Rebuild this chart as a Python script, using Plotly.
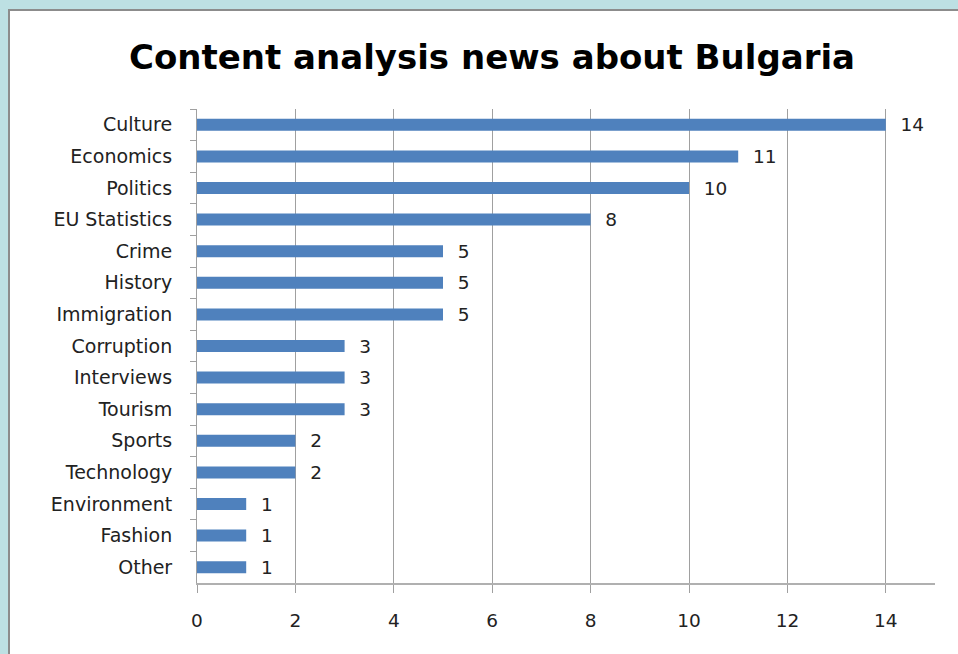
import plotly.graph_objects as go

categories = ["Culture", "Economics", "Politics", "EU Statistics", "Crime", "History",
              "Immigration", "Corruption", "Interviews", "Tourism", "Sports",
              "Technology", "Environment", "Fashion", "Other"]
counts = [14, 11, 10, 8, 5, 5, 5, 3, 3, 3, 2, 2, 1, 1, 1]
x_ticks = [0, 2, 4, 6, 8, 10, 12, 14]

W, H = 958, 654
L, R, T, B = 197, 23, 109, 71
pw, ph = W - L - R, H - T - B

def px2x(px):
    return (px - L) / pw

def py2y(py):
    return (H - B - py) / ph

FONT = "DejaVu Sans"
TXT = "#222222"

fig = go.Figure(go.Bar(
    x=counts, y=categories, orientation="h",
    marker=dict(color="#4f81bd", line=dict(width=0)),
    text=counts, texttemplate="  %{x}", textposition="outside",
    textfont=dict(family=FONT, size=18.5, color=TXT),
    constraintext="none", cliponaxis=False, width=0.38,
))

fig.update_layout(
    width=W, height=H,
    margin=dict(l=L, r=R, t=T, b=B, autoexpand=False),
    paper_bgcolor="#bde0e3", plot_bgcolor="white",
    showlegend=False,
    title=dict(text="<b>Content analysis news about Bulgaria</b>",
               font=dict(family=FONT, size=34, color="black"),
               x=492 / W, xref="container", xanchor="center",
               y=1 - 57 / H, yref="container", yanchor="middle"),
    shapes=[dict(type="rect", xref="paper", yref="paper", layer="below",
                 x0=px2x(9), x1=px2x(W + 5), y0=py2y(H + 5), y1=py2y(10),
                 fillcolor="white", line=dict(color="#8c8c8c", width=2))],
)

fig.update_xaxes(range=[0, 15], tickvals=x_ticks, showgrid=True, gridcolor="#a0a0a0",
                 gridwidth=1, zeroline=False, showline=True, linecolor="#b0b0b0",
                 linewidth=2, ticks="outside", ticklen=8, tickcolor="#a0a0a0",
                 tickfont=dict(family=FONT, size=18.5, color=TXT),
                 ticklabelstandoff=12, fixedrange=True)
fig.update_yaxes(autorange="reversed", showline=True, linecolor="#a0a0a0", linewidth=1,
                 ticks="outside", ticklen=6, tickcolor="#a0a0a0", tickson="boundaries",
                 tickfont=dict(family=FONT, size=19, color=TXT),
                 ticklabelstandoff=20, showgrid=False, fixedrange=True)

fig.write_html("out.html")
